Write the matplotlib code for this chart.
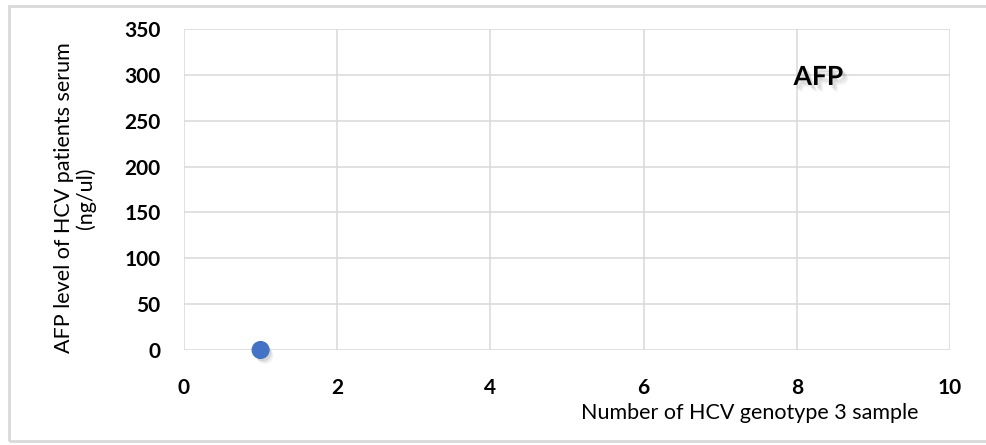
import matplotlib
matplotlib.use("Agg")
import matplotlib.pyplot as plt
import matplotlib.patheffects as pe
from matplotlib.patches import Rectangle

# sample data
sample_no = [1]
afp_level = [0]

x_ticks = [0, 2, 4, 6, 8, 10]
y_ticks = [0, 50, 100, 150, 200, 250, 300, 350]

plt.rcParams['font.family'] = ['Lato', 'DejaVu Sans']

fig = plt.figure(figsize=(9.86, 4.45), dpi=100)
ax = fig.add_axes([0.1866, 0.2135, 0.7769, 0.7213])

# soft shadow, built from a few offset layers
def soft_shadow(off=(2.5, -2.5)):
    layers = []
    for k, a in [(1.6, 0.08), (1.2, 0.12), (0.8, 0.16)]:
        layers.append(pe.SimplePatchShadow(offset=(off[0] * k, off[1] * k),
                                           shadow_rgbFace='#808080', alpha=a))
    layers.append(pe.Normal())
    return layers

ax.scatter(sample_no, afp_level, s=145, color='#4472C4', zorder=5,
           clip_on=False, path_effects=soft_shadow((2, -2.5)))

ax.set_xlim(0, 10)
ax.set_ylim(0, 350)
ax.set_xticks(x_ticks)
ax.set_yticks(y_ticks)
ax.grid(True, color='#D9D9D9', linewidth=1.1)
ax.set_axisbelow(True)
for s in ax.spines.values():
    s.set_visible(False)
ax.tick_params(length=0, labelsize=15, colors='#000000')
ax.tick_params(axis='y', pad=17)
ax.tick_params(axis='x', pad=20)
for lab in ax.get_xticklabels() + ax.get_yticklabels():
    lab.set_fontweight('bold')

fig.text(0.076, 0.555, 'AFP level of HCV patients serum\n(ng/ul)', rotation=90,
         ha='center', va='center', fontsize=15.5, linespacing=1.1)
fig.text(0.760, 0.072, 'Number of HCV genotype 3 sample', ha='center',
         va='center', fontsize=15.5)

fig.text(0.830, 0.827, 'AFP', ha='center', va='center', fontsize=19,
         fontweight='bold', path_effects=soft_shadow((2.5, -3)))

# chart frame
fig.patches.append(Rectangle((9 / 986, 4 / 445), 1.2, 435 / 445,
                             transform=fig.transFigure, fill=False,
                             edgecolor='#D9D9D9', linewidth=2))

fig.savefig('out.png', dpi=100)
